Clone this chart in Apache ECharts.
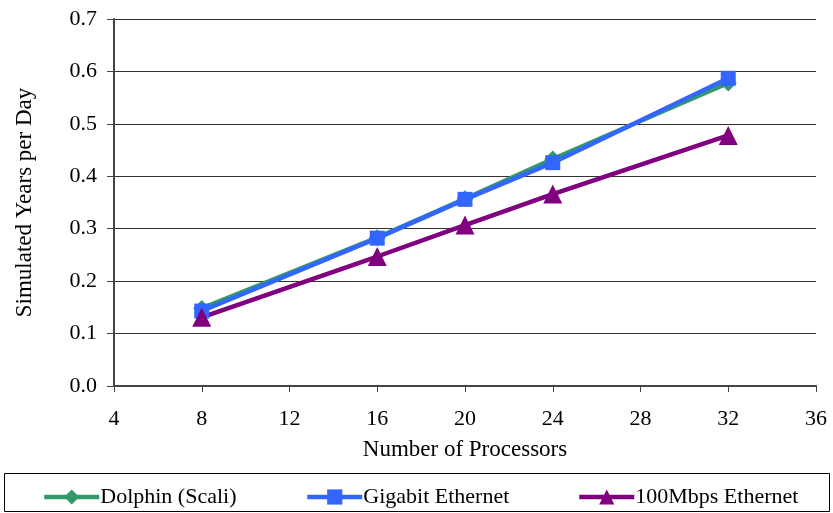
<!DOCTYPE html>
<html>
<head>
<meta charset="utf-8">
<script src="https://cdn.jsdelivr.net/npm/echarts@6/dist/echarts.min.js"></script>
<style>
  html, body { margin: 0; padding: 0; background: #fff; }
  #chart { width: 833px; height: 513px; }
</style>
</head>
<body>
<div id="chart"></div>
<script>
// Processor counts and throughput for each interconnect
const processors = [8, 16, 20, 24, 32];
const dolphin = [0.148, 0.283, 0.357, 0.433, 0.578];
const gigabit = [0.143, 0.282, 0.356, 0.426, 0.587];
const fastEth = [0.131, 0.247, 0.307, 0.366, 0.478];
const seriesNames = ['Dolphin (Scali)', 'Gigabit Ethernet', '100Mbps Ethernet'];

const FONT = '"Liberation Serif", "Times New Roman", serif';
const pairs = vals => processors.map((p, i) => [p, vals[i]]);

const chart = echarts.init(document.getElementById('chart'), null, { renderer: 'canvas' });

function lineSeries(name, vals, color, symbol, size) {
  return {
    name: name,
    type: 'line',
    data: pairs(vals),
    symbol: symbol,
    symbolSize: size,
    showAllSymbol: true,
    lineStyle: { color: color, width: 4.5 },
    itemStyle: { color: color },
    emphasis: { disabled: true },
    animation: false,
    z: 3
  };
}

function legendAt(name, left) {
  return {
    data: [name],
    left: left,
    top: 481,
    itemWidth: 55,
    itemHeight: 19,
    itemGap: 0,
    lineStyle: { width: 4.5 },
    textStyle: { fontFamily: FONT, fontSize: 22, color: '#000', padding: [0, 0, 0, -4] },
    selectedMode: false
  };
}

chart.setOption({
  animation: false,
  backgroundColor: '#fff',
  grid: { left: 114, right: 17, top: 19, bottom: 127 },
  xAxis: {
    type: 'value',
    min: 4,
    max: 36,
    interval: 4,
    name: 'Number of Processors',
    nameLocation: 'middle',
    nameGap: 52,
    nameTextStyle: { fontFamily: FONT, fontSize: 23, color: '#000' },
    axisLine: { show: true, lineStyle: { color: '#444', width: 2 } },
    axisTick: { show: true, inside: false, length: 6, lineStyle: { color: '#444', width: 1 } },
    axisLabel: { fontFamily: FONT, fontSize: 22, color: '#000', margin: 22 },
    splitLine: { show: false }
  },
  yAxis: {
    type: 'value',
    min: 0,
    max: 0.7,
    interval: 0.1,
    name: 'Simulated Years per Day',
    nameLocation: 'middle',
    nameGap: 78,
    nameTextStyle: { fontFamily: FONT, fontSize: 23, color: '#000' },
    axisLine: { show: true, lineStyle: { color: '#444', width: 2 } },
    axisTick: { show: true, inside: false, length: 7, lineStyle: { color: '#444', width: 1 } },
    axisLabel: { fontFamily: FONT, fontSize: 22, color: '#000', margin: 17,
                 formatter: v => v.toFixed(1) },
    splitLine: { show: true, lineStyle: { color: '#333', width: 1 } }
  },
  legend: [
    legendAt(seriesNames[0], 37),
    legendAt(seriesNames[1], 300),
    legendAt(seriesNames[2], 572)
  ],
  graphic: [{
    type: 'rect',
    shape: { x: 4.5, y: 473.5, width: 825, height: 38 },
    style: { fill: 'none', stroke: '#000', lineWidth: 1 },
    silent: true
  }],
  series: [
    lineSeries(seriesNames[0], dolphin, '#339966', 'diamond', 17),
    lineSeries(seriesNames[1], gigabit, '#3366FF', 'rect', 15),
    lineSeries(seriesNames[2], fastEth, '#800080', 'triangle', 19)
  ]
});
</script>
</body>
</html>
